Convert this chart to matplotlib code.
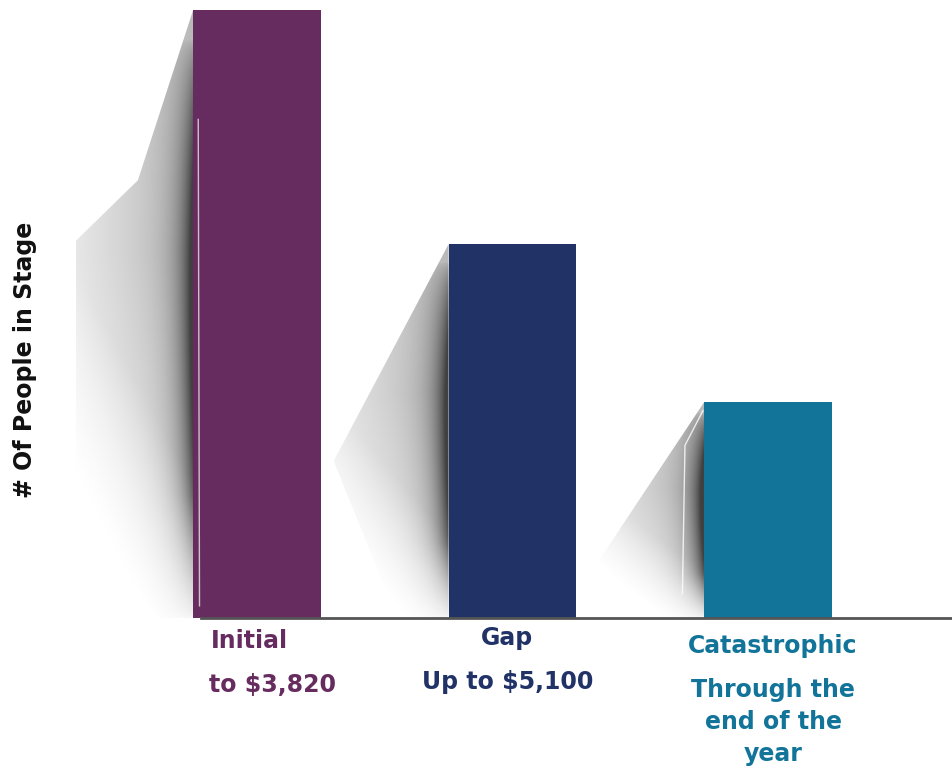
import numpy as np
import matplotlib.pyplot as plt
from matplotlib.patches import Polygon
from matplotlib.transforms import blended_transform_factory

plt.rcParams['font.family'] = ['DejaVu Sans']

# data
stages = ['Initial', 'Gap', 'Catastrophic']
people = [100, 61.5, 35.5]
sub_labels = [['to $3,820'], ['Up to $5,100'], ['Through the', 'end of the', 'year']]
colors = ['#672c5f', '#213366', '#127499']

# shadow outlines, (u, v): u = fraction of shadow width left of bar, v = fraction of bar height
shadow_widths = [0.46, 0.45, 0.41]
shadow_shapes = [
    [(0, 1.0), (0.47, 0.72), (1.0, 0.62), (1.0, 0.2), (0.3, 0.0), (0, 0.0)],
    [(0, 1.0), (1.0, 0.42), (0.45, 0.0), (0, 0.0)],
    [(0, 1.0), (1.0, 0.27), (0.5, 0.0), (0, 0.0)],
]

bar_w = 0.5
x = np.arange(len(stages))


def draw_shadow(ax, x_left, h, width, shape):
    pts = [(x_left - u * width, v * h) for u, v in shape]
    poly = Polygon(pts, closed=True, facecolor='none', edgecolor='none')
    ax.add_patch(poly)
    nu, nv = 200, 300
    u = np.linspace(1, 0, nu)[None, :]
    v = np.linspace(1, 0, nv)[:, None]
    # dark band near the bar edge, strongest in the middle height
    band = np.exp(-u / 0.12) * np.clip(np.sin(np.pi * np.clip(v * 1.05, 0, 1)) ** 0.6, 0, 1)
    haze = 0.28 * (1 - 0.65 * u) * np.clip(0.4 + v, 0, 1)
    fade = np.clip((v + 0.35 * (1 - u) - 0.22) / 0.35, 0, 1)
    fade_band = np.clip((v + 0.1) / 0.3, 0, 1)
    alpha = np.clip(0.65 * band * fade_band + haze * fade, 0, 0.75)
    img = np.zeros((nv, nu, 4))
    img[..., 3] = alpha
    im = ax.imshow(img, extent=[x_left - width, x_left, 0, h], aspect='auto',
                   zorder=1, interpolation='bilinear')
    im.set_clip_path(poly)


fig = plt.figure(figsize=(9.53, 7.68), dpi=100)
ax = fig.add_axes([0, 150 / 768, 1, 618 / 768])

for i in range(len(stages)):
    draw_shadow(ax, x[i] - bar_w / 2, people[i], shadow_widths[i], shadow_shapes[i])

ax.bar(x, people, width=bar_w, color=colors, zorder=2, linewidth=0)

# thin highlight streaks
ax.plot([x[0] - bar_w / 2 + 0.02, x[0] - bar_w / 2 + 0.025], [82, 2], color='white', lw=1, alpha=0.7, zorder=3)
ax.plot([x[2] - bar_w / 2 - 0.085, x[2] - bar_w / 2 - 0.075, x[2] - bar_w / 2 - 0.005],
        [4, people[2] * 0.8, people[2] * 0.96], color='white', lw=1, alpha=0.8, zorder=1.5)

xmin, xmax = -257 / 255.5, (953 - 257) / 255.5
ax.plot([x[0] - bar_w / 2 + 0.03, xmax], [0, 0], color='#555555', lw=2, zorder=3, clip_on=False)
ax.set_xlim(xmin, xmax)
ax.set_ylim(0, 100 * 618 / 608)
ax.axis('off')

tr = blended_transform_factory(ax.transData, fig.transFigure)
title_y = [641, 638, 646]
sub_y = [685, 682, 690]
title_dx = [-0.03, -0.02, 0.02]
sub_dx = [0.06, -0.02, 0.02]
line_gap = 32
for i in range(len(stages)):
    fig.text(x[i] + title_dx[i], 1 - title_y[i] / 768, stages[i], transform=tr, ha='center', va='center',
             fontsize=17, fontweight='bold', color=colors[i])
    for k, line in enumerate(sub_labels[i]):
        fig.text(x[i] + sub_dx[i], 1 - (sub_y[i] + k * line_gap) / 768, line, transform=tr,
                 ha='center', va='center', fontsize=17, fontweight='bold', color=colors[i])

fig.text(0.026, 1 - 360 / 768, '# Of People in Stage', rotation=90, ha='center', va='center',
         fontsize=17, fontweight='bold', color='#111111')

fig.savefig('out.png', dpi=100)
